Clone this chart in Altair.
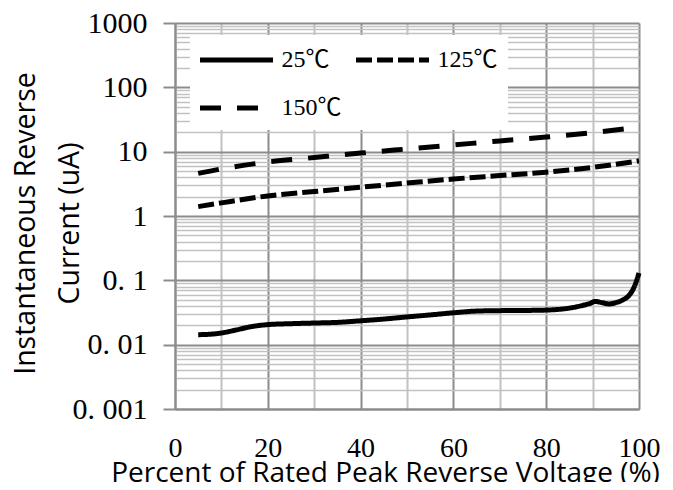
import altair as alt
import pandas as pd

# ---- data ----
x_25 = [5, 8, 10, 13, 16, 20, 25, 30, 35, 40, 45, 50, 55, 60, 65, 70, 75, 80, 85, 88, 89.5, 90.5, 92, 93.5, 95, 96.6, 98, 99, 100]
y_25 = [0.0143, 0.0146, 0.0152, 0.0168, 0.0188, 0.0205, 0.0212, 0.0217, 0.0222, 0.0235, 0.025, 0.027, 0.029, 0.0313,
        0.0333, 0.0338, 0.0340, 0.0345, 0.037, 0.041, 0.044, 0.047, 0.045, 0.043, 0.045, 0.05, 0.06, 0.08, 0.13]

x_125 = [5, 10, 20, 30, 40, 50, 60, 70, 80, 90, 100]
y_125 = [1.4, 1.6, 2.05, 2.4, 2.8, 3.25, 3.76, 4.25, 4.8, 5.7, 7.2]

x_150 = [5, 10, 20, 30, 40, 50, 60, 70, 80, 90, 99]
y_150 = [4.6, 5.4, 6.9, 8.1, 9.5, 11.0, 12.7, 14.7, 16.9, 19.8, 23.5]

series_names = ["25℃", "125℃", "150℃"]
series_dash = [[1, 0], [16, 5], [21, 16]]

x_tick_values = [0, 10, 20, 30, 40, 50, 60, 70, 80, 90, 100]
y_tick_values = [0.001, 0.01, 0.1, 1, 10, 100, 1000]
y_tick_labels = ["0. 001", "0. 01", "0. 1", "1", "10", "100", "1000"]
y_minor_factors = [2, 3, 4, 5, 6, 7, 8, 9]

x_title = "Percent of Rated Peak Reverse Voltage (%)"
y_title = ["Instantaneous Reverse", "Current (uA)"]

# ---- build table ----
rows = []
for name, xs, ys in [(series_names[0], x_25, y_25), (series_names[1], x_125, y_125), (series_names[2], x_150, y_150)]:
    for i, (xv, yv) in enumerate(zip(xs, ys)):
        rows.append({"x": xv, "y": yv, "series": name, "order": i})
df = pd.DataFrame(rows)

y_minor = [m * d for d in y_tick_values[:-1] for m in y_minor_factors]
y_all_values = sorted(y_tick_values + y_minor)

major_list = "[" + ",".join(repr(v) for v in y_tick_values) + "]"
label_expr = ""
for v, lab in zip(y_tick_values, y_tick_labels):
    label_expr += f"datum.value == {v!r} ? '{lab}' : "
label_expr += "''"
is_major = f"indexof({major_list}, datum.value) >= 0"

MAJOR = "#8c8c8c"
MINOR = "#c2c2c2"
SERIF = "'Liberation Serif', 'Noto Sans CJK SC', serif"
SANS = "'Open Sans', 'Noto Sans', sans-serif"

chart = alt.Chart(df).mark_line(strokeWidth=5, color="black", interpolate="monotone", strokeCap="butt").encode(
    x=alt.X("x:Q", scale=alt.Scale(domain=[0, 100], nice=False, zero=False),
            axis=alt.Axis(values=x_tick_values, title=x_title,
                          labelExpr="datum.value % 20 == 0 ? datum.label : ''",
                          labelFont=SERIF, labelFontSize=28, labelColor="black",
                          labelBaseline="alphabetic", labelPadding=47, labelFlush=False,
                          labelOverlap=False,
                          ticks=False, tickSize=0,
                          domainColor=MAJOR, domainWidth=2,
                          grid=True,
                          gridColor={"condition": {"test": "datum.value % 20 == 0", "value": MAJOR}, "value": MINOR},
                          gridWidth=2,
                          titleFont=SANS, titleFontSize=28, titleFontWeight="normal", titleColor="black",
                          titleX=210, titleY=72, titleAlign="center", titleBaseline="alphabetic")),
    y=alt.Y("y:Q", scale=alt.Scale(type="log", domain=[0.001, 1000], nice=False),
            axis=alt.Axis(values=y_all_values, title=y_title,
                          labelExpr=label_expr,
                          labelFont=SERIF, labelFontSize=30, labelColor="black",
                          labelPadding=16, labelFlush=False, labelOverlap=False, labelBaseline="middle",
                          ticks=True, tickSize=12, tickWidth=2, tickColor=MAJOR,
                          tickOpacity={"condition": {"test": is_major, "value": 1}, "value": 0},
                          domainColor=MAJOR, domainWidth=2,
                          grid=True,
                          gridColor={"condition": {"test": is_major, "value": MAJOR}, "value": MINOR},
                          gridWidth={"condition": {"test": is_major, "value": 2}, "value": 1.5},
                          titleFont=SANS, titleFontSize=28.5, titleFontWeight="normal", titleColor="black",
                          titleAngle=270, titleX=-150, titleY=200, titleAlign="center", titleBaseline="middle",
                          titleLineHeight=44)),
    strokeDash=alt.StrokeDash("series:N", scale=alt.Scale(domain=series_names, range=series_dash),
                              sort=series_names,
                              legend=alt.Legend(title=None, orient="none", legendX=15, legendY=12, columns=2,
                                                direction="horizontal",
                                                symbolType="M-3,0H3", symbolSize=592, symbolStrokeWidth=5,
                                                symbolStrokeColor="black", symbolOffset=21.5, labelOffset=30,
                                                labelFont=SERIF, labelFontSize=24, labelColor="black",
                                                fillColor="white", padding=10, columnPadding=4, rowPadding=21)),
    detail="series:N",
    order="order:Q",
).properties(
    width=464, height=386,
    autosize=alt.AutoSizeParams(type="none"),
    padding={"left": 167, "top": 15, "right": 26, "bottom": 73},
).configure_view(stroke=None)

chart.save("out.html", embed_options={"renderer": "svg", "actions": False})
